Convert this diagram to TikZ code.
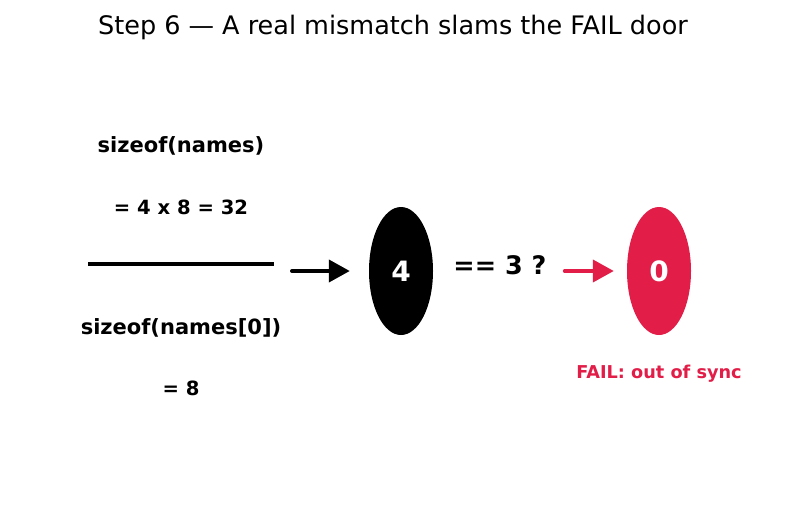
\documentclass[tikz,border=0pt]{standalone}
\usepackage{fontspec}
\setmainfont{DejaVu Sans}
\usetikzlibrary{arrows.meta,shapes.geometric}
\definecolor{failred}{HTML}{E11D48}

\begin{document}
\begin{tikzpicture}[x=1pt, y=-1pt,
		lbl/.style={font=\bfseries\fontsize{21}{24}\selectfont},
		val/.style={font=\bfseries\fontsize{19.6}{22}\selectfont},
		cnt/.style={ellipse, minimum width=64pt, minimum height=128pt, inner sep=0pt, text=white, font=\bfseries\fontsize{28}{32}\selectfont},
		flow/.style={line width=4pt, line cap=round, -{Triangle[length=21pt, width=22pt]}}]
		\useasboundingbox (0, 0) rectangle (787, 512);
		\draw (393, 27) 	node[font=\fontsize{25.5}{30}\selectfont] (title) 	{Step 6 — A real mismatch slams the FAIL door};
		\draw (181, 146) 	node[lbl] (num) 		{sizeof(names)};
		\draw (181, 207) 	node[val] (numval) 	{= 4 x 8 = 32};
		\draw (181, 328) 	node[lbl] (den) 		{sizeof(names[0])};
		\draw (181, 388) 	node[val] (denval) 	{= 8};
		\coordinate (barL) at (88, 264);
		\coordinate (barR) at (274, 264);
		\draw (401, 271) 	node[cnt, fill=black] (count) 	{4};
		\draw (500, 265) 	node[font=\bfseries\fontsize{25.5}{30}\selectfont] (cmp) 	{== 3 ?};
		\draw (659, 374) 	node[font=\bfseries\fontsize{17.7}{20}\selectfont, text=failred] (fail) 	{FAIL: out of sync};
		\draw (659, 271) 	node[cnt, fill=failred] (result) 	{0};

		\draw[line width=4pt] (barL) -- (barR);
		\draw[flow] ([xshift=18pt, yshift=-7pt]barR) -- ([xshift=-19pt]count.west);
		\draw[flow, failred] ([xshift=-62pt]result.west) -- ([xshift=-13pt]result.west);
	\end{tikzpicture}
\end{document}
